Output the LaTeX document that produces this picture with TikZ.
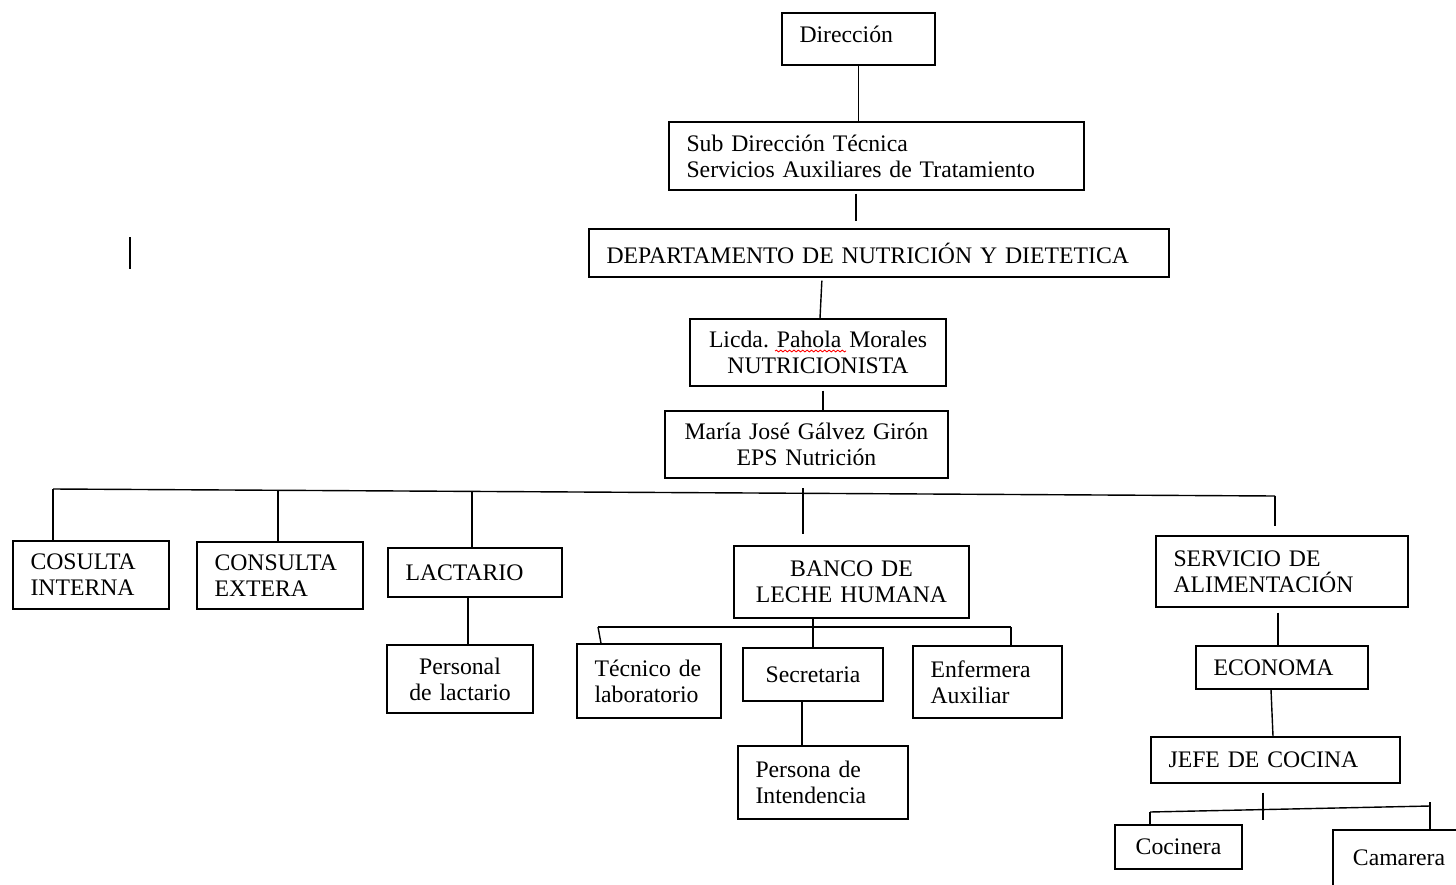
\documentclass[tikz,border=0pt]{standalone}
\usepackage{fontspec}
\setmainfont{Liberation Serif}
\usetikzlibrary{decorations.pathmorphing}
\tikzset{
  caja/.style={draw, line width=0.8pt, inner ysep=1pt, font=\fontsize{13.5}{14.8}\selectfont},
  izq/.style={caja, align=left, inner xsep=0.35cm},
  cen/.style={caja, align=center, inner xsep=0.1cm},
  linea/.style={line width=0.8pt}
}
\begin{document}
\begin{tikzpicture}[x=0.02cm, y=-0.02cm]
\useasboundingbox (0,0) rectangle (1456,885);
\node[izq, text width=2.36cm, minimum height=1.04cm, text depth=0.2cm] (dir) at (858.5,39) {Dirección};
\node[izq, text width=7.60cm, minimum height=1.36cm] (sub) at (876.5,156) {Sub Dirección Técnica\\Servicios Auxiliares de Tratamiento};
\node[izq, text width=10.90cm, minimum height=0.96cm] (dep) at (879,253) {DEPARTAMENTO DE NUTRICIÓN Y DIETETICA};
\node[cen, text width=4.92cm, minimum height=1.34cm] (lic) at (818,352.5) {Licda.\ Pahola Morales\\NUTRICIONISTA};
\node[cen, text width=5.46cm, minimum height=1.34cm] (mar) at (806.5,444.5) {María José Gálvez Girón\\EPS Nutrición};
\node[izq, text width=2.42cm, minimum height=1.36cm] (cin) at (91,575) {COSULTA\\INTERNA};
\node[izq, text width=2.62cm, minimum height=1.34cm] (cex) at (280,575.5) {CONSULTA\\EXTERA};
\node[izq, text width=2.78cm, minimum height=0.98cm] (lac) at (475,572.5) {LACTARIO};
\node[cen, text width=2.72cm, minimum height=1.36cm] (plac) at (460,679) {Personal\\de lactario};
\node[cen, text width=4.50cm, minimum height=1.44cm] (ban) at (851.5,582) {BANCO DE\\LECHE HUMANA};
\node[izq, text width=2.18cm, minimum height=1.48cm] (tec) at (649,681) {Técnico~de\\laboratorio};
\node[cen, text width=2.60cm, minimum height=1.06cm] (sec) at (813,674.5) {Secretaria};
\node[izq, text width=2.28cm, minimum height=1.44cm] (enf) at (987.5,682) {Enfermera\\Auxiliar};
\node[izq, text width=2.70cm, minimum height=1.46cm] (per) at (823,782.5) {Persona de\\Intendencia};
\node[izq, text width=4.34cm, minimum height=1.42cm] (ser) at (1282,571.5) {SERVICIO DE\\ALIMENTACIÓN};
\node[izq, text width=2.74cm, minimum height=0.86cm] (eco) at (1282,667.5) {ECONOMA};
\node[izq, text width=4.28cm, minimum height=0.92cm] (jef) at (1275.5,760) {JEFE DE COCINA};
\node[cen, text width=2.34cm, minimum height=0.88cm] (coc) at (1178.5,847) {Cocinera};
\node[cen, text width=2.44cm, minimum height=1.12cm] (cam) at (1399,858) {Camarera};
\draw[red, line width=0.5pt, decorate, decoration={snake, amplitude=0.5pt, segment length=2.5pt}] (775,351) -- (846,351);
\draw[linea] (130,237) -- (130,269);
\draw[linea] (dir.south) -- (dir.south |- sub.north);
\draw[linea, shorten <=0.06cm, shorten >=0.14cm] (sub.south -| 856,0) -- (dep.north -| 856,0);
\draw[linea, shorten <=0.06cm] (dep.south -| 822,0) -- (lic.north -| 820,0);
\draw[linea, shorten <=0.08cm] (lic.south -| 823,0) -- (mar.north -| 823,0);
\coordinate (bi) at (53,489);
\coordinate (bd) at (1275,496);
\coordinate (b2) at (278,490);
\coordinate (b3) at (472,491);
\coordinate (b4) at (803,488);
\draw[linea] (bi) -- (bd);
\draw[linea] (bi) -- (cin.north -| bi);
\draw[linea] (b2) -- (cex.north -| b2);
\draw[linea] (b3) -- (lac.north -| b3);
\draw[linea, shorten >=0.22cm] (b4) -- (ban.north -| b4);
\draw[linea, shorten >=0.18cm] (bd) -- (ser.north -| bd);
\draw[linea] (lac.south -| 468,0) -- (plac.north -| 468,0);
\coordinate (bbi) at (598,627);
\coordinate (bbd) at (1011,627);
\draw[linea] (bbi) -- (bbd);
\draw[linea] (ban.south -| 813,0) -- (sec.north -| 813,0);
\draw[linea] (bbi) -- (tec.north -| 601,0);
\draw[linea] (bbd) -- (enf.north -| bbd);
\draw[linea] (sec.south -| 802,0) -- (per.north -| 802,0);
\draw[linea, shorten <=0.1cm] (ser.south -| 1278,0) -- (eco.north -| 1278,0);
\draw[linea] (eco.south -| 1271,0) -- (jef.north -| 1273,0);
\coordinate (jt) at (1263,820);
\coordinate (ci) at (1150,812);
\coordinate (cd) at (1430,806);
\draw[linea, shorten <=0.18cm] (jef.south -| jt) -- (jt);
\draw[linea] (ci) -- (cd);
\draw[linea] (ci) -- (coc.north -| ci);
\draw[linea, shorten <=-0.08cm] (cd) -- (cam.north -| cd);
\end{tikzpicture}
\end{document}
